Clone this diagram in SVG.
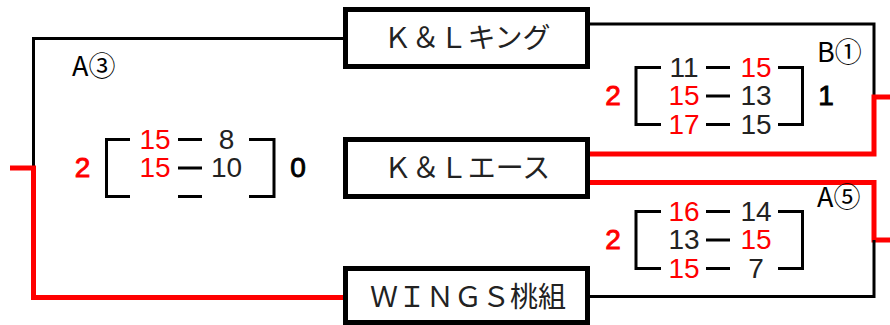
<svg xmlns="http://www.w3.org/2000/svg" width="890" height="325" viewBox="0 0 890 325">
<style>
.box{fill:#fff;stroke:#000;stroke-width:5}
.name{font-family:"Noto Sans CJK JP","Liberation Sans",sans-serif;font-size:28px;text-anchor:middle;fill:#222}
.bk{fill:none;stroke:#000;stroke-width:3}
.red{fill:none;stroke:#f00;stroke-width:5}
.sc{font-family:"Liberation Sans","Noto Sans CJK JP",sans-serif;font-size:28px;text-anchor:middle;fill:#222}
.tot{font-family:"Liberation Sans",sans-serif;font-size:28px;text-anchor:middle;fill:#000;stroke:#000;stroke-width:0.9}
.lbl{font-family:"Noto Sans CJK JP",sans-serif;font-size:27px;fill:#000}
.br{fill:none;stroke:#000;stroke-width:3}
text.r{fill:#f00}
text.tot.r{stroke:#f00}
</style>
<g id="connectors">
<path class="bk" d="M343 38.5 H33.5 V168"/>
<path class="red" d="M10 168 H33.5 V297.5 H343"/>
<path class="bk" d="M590 24 H874 V95"/>
<path class="red" d="M590 154 H874 V97 H890"/>
<path class="red" d="M590 182.5 H874 V240 H890"/>
<path class="bk" d="M874 240 V296.5 H590"/>
</g>
<g id="kl-king">
<rect class="box" x="345.5" y="9.5" width="242" height="57"/>
<text class="name" x="467" y="48">Ｋ＆Ｌキング</text>
</g>
<g id="kl-ace">
<rect class="box" x="345.5" y="139.5" width="242" height="57"/>
<text class="name" x="467" y="178">Ｋ＆Ｌエース</text>
</g>
<g id="wings">
<rect class="box" x="345.5" y="268.5" width="242" height="54"/>
<text class="name" x="468" y="307">ＷＩＮＧＳ桃組</text>
</g>
<g id="match-a3">
<text class="lbl" x="72" y="76">A③</text>
<path class="br" d="M130 139.5 H106.5 V196.5 H130 M249 139.5 H274 V196.5 H249 M178 139.5 H202 M178 168 H202 M178 196.5 H202"/>
<text class="tot r" x="82.5" y="177">2</text>
<text class="tot" x="298" y="177">0</text>
<text class="sc r" x="155" y="148.5">15</text>
<text class="sc" x="226.5" y="148.5">8</text>
<text class="sc r" x="155" y="177">15</text>
<text class="sc" x="226.5" y="177">10</text>
</g>
<g id="match-b1">
<text class="lbl" x="817" y="62">B①</text>
<path class="br" d="M661 67.5 H636 V124.5 H661 M778 67.5 H802.5 V124.5 H778 M706 67.5 H730 M706 96 H730 M706 124.5 H730"/>
<text class="tot r" x="613" y="105">2</text>
<text class="tot" x="826" y="105">1</text>
<text class="sc" x="684" y="76.5">11</text>
<text class="sc r" x="756" y="76.5">15</text>
<text class="sc r" x="684" y="105">15</text>
<text class="sc" x="756" y="105">13</text>
<text class="sc r" x="684" y="133.5">17</text>
<text class="sc" x="756" y="133.5">15</text>
</g>
<g id="match-a5">
<text class="lbl" x="817" y="207">A⑤</text>
<path class="br" d="M661 211.5 H636 V268.5 H661 M778 211.5 H802.5 V268.5 H778 M706 211.5 H730 M706 240 H730 M706 268.5 H730"/>
<text class="tot r" x="613" y="249">2</text>
<text class="sc r" x="684" y="220.5">16</text>
<text class="sc" x="756" y="220.5">14</text>
<text class="sc" x="684" y="249">13</text>
<text class="sc r" x="756" y="249">15</text>
<text class="sc r" x="684" y="277.5">15</text>
<text class="sc" x="756" y="277.5">7</text>
</g>
</svg>
